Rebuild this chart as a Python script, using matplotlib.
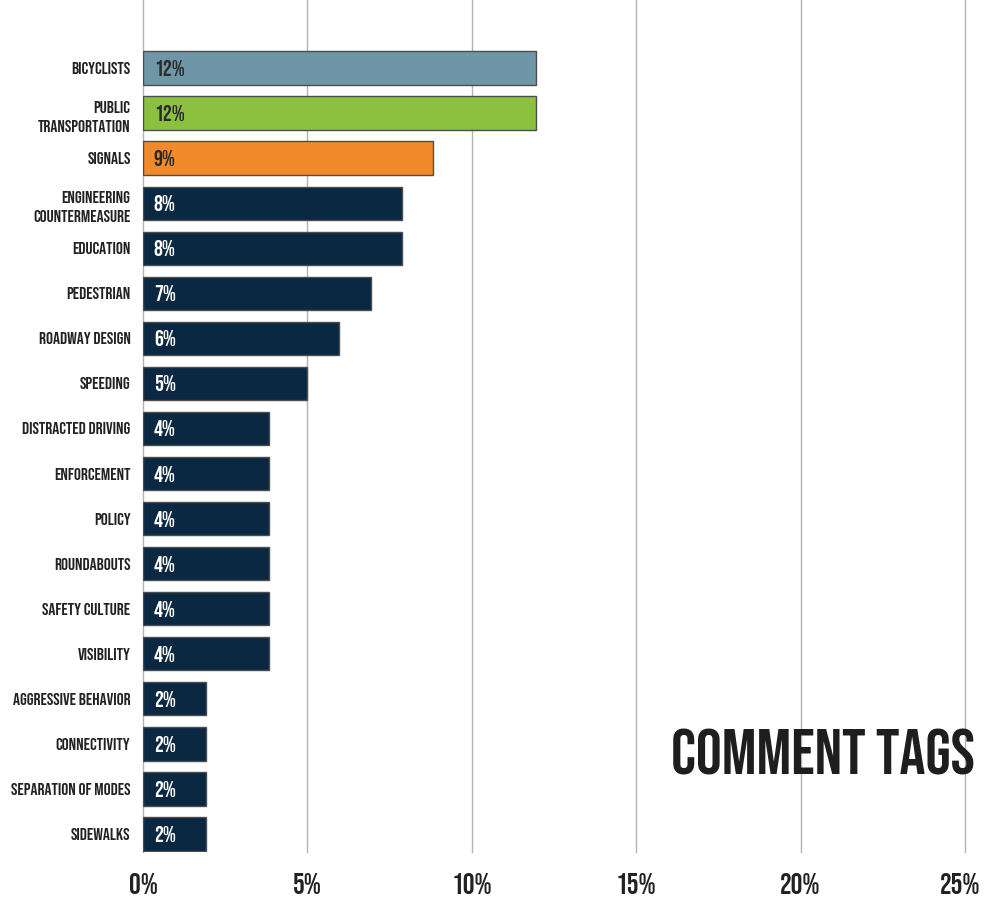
import matplotlib
matplotlib.use('Agg')
import matplotlib.pyplot as plt
from matplotlib import font_manager
from matplotlib.transforms import ScaledTranslation

# tall condensed display face, falling back to whatever is available
installed = {f.name for f in font_manager.fontManager.ttflist}
FONT = next((f for f in ['Bebas Neue', 'Oswald', 'Roboto Condensed', 'DejaVu Sans']
             if f in installed), 'DejaVu Sans')
plt.rcParams['font.family'] = FONT

categories = ['BICYCLISTS', 'PUBLIC\nTRANSPORTATION', 'SIGNALS', 'ENGINEERING\nCOUNTERMEASURE',
              'EDUCATION', 'PEDESTRIAN', 'ROADWAY DESIGN', 'SPEEDING', 'DISTRACTED DRIVING',
              'ENFORCEMENT', 'POLICY', 'ROUNDABOUTS', 'SAFETY CULTURE', 'VISIBILITY',
              'AGGRESSIVE BEHAVIOR', 'CONNECTIVITY', 'SEPARATION OF MODES', 'SIDEWALKS']
shares = [11.95, 11.95, 8.83, 7.89, 7.89, 6.94, 5.96, 5.0, 3.84,
          3.84, 3.84, 3.84, 3.84, 3.84, 1.93, 1.93, 1.93, 1.93]
tick_values = [0, 5, 10, 15, 20, 25]

NAVY = '#0b2842'
bar_colors = ['#6f96a6', '#8bc13f', '#f08a2c'] + [NAVY] * (len(categories) - 3)
text_colors = ['#2a2a2a'] * 3 + ['white'] * (len(categories) - 3)

fig = plt.figure(figsize=(9.84, 8.98), dpi=100)
ax = fig.add_axes([143 / 984, 46 / 898, 822 / 984, 852 / 898])

ypos = list(range(len(categories)))
ax.barh(ypos, shares, height=0.74, color=bar_colors, edgecolor='#4d4d4d',
        linewidth=1.0, zorder=3)

for y, v, tc in zip(ypos, shares, text_colors):
    ax.text(0.33, y, f'{round(v)}%', color=tc, fontsize=16,
            va='center', ha='left', zorder=4)

ax.set_xlim(0, 25)
ax.set_ylim(17.4, -1.51)
ax.set_xticks(tick_values)
ax.set_xticklabels([f'{t}%' for t in tick_values], fontsize=21, color='#222222')
ax.set_yticks(ypos)
ax.set_yticklabels(categories, fontsize=12.5, color='#222222', linespacing=1.6)
ax.tick_params(axis='both', length=0)
ax.tick_params(axis='y', pad=9)
ax.tick_params(axis='x', pad=15)
ax.grid(axis='x', color='#b3b3b3', linewidth=1.0, zorder=0)
for line in ax.get_xgridlines():
    line.set_clip_on(False)
for s in ax.spines.values():
    s.set_visible(False)

# keep the last percentage inside the canvas
last = ax.get_xticklabels()[-1]
last.set_horizontalalignment('right')
last.set_transform(last.get_transform() + ScaledTranslation(0.15, 0, fig.dpi_scale_trans))

fig.text(975 / 984, 1 - 752 / 898, 'COMMENT TAGS', fontsize=46.5,
         color='#1e1e1e', ha='right', va='center')

fig.savefig('out.png', dpi=100, facecolor='white')
